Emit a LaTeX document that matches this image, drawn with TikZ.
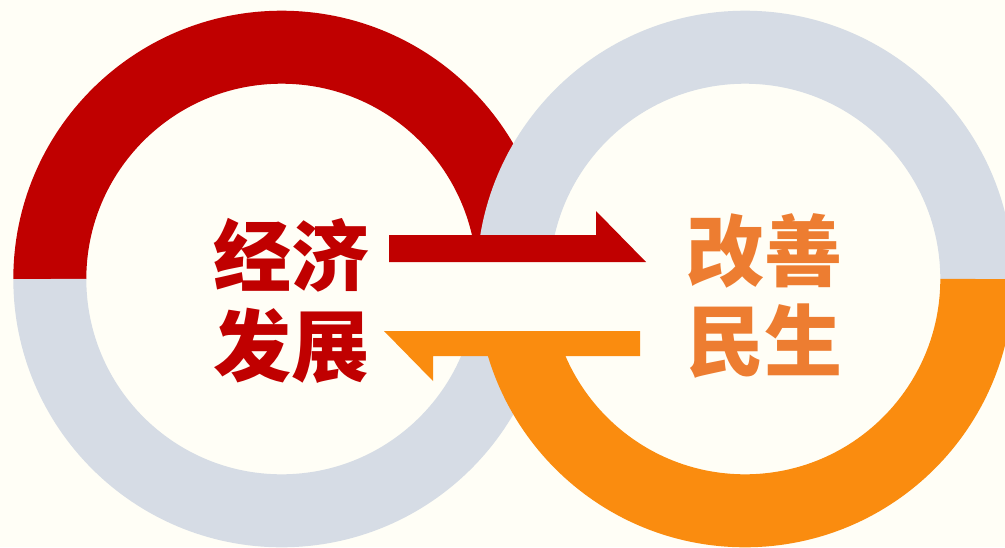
\documentclass[tikz,border=0pt]{standalone}
\usepackage{fontspec}
\usepackage{tikz}
\usepackage{tkz-euclide}
\usetikzlibrary{calc}
\newfontfamily\cjk{Noto Sans CJK SC}
\definecolor{ecored}{HTML}{C00000}
\definecolor{ringgrey}{HTML}{D6DCE5}
\definecolor{lifeorange}{HTML}{FA8C0F}
\definecolor{lifetext}{HTML}{ED7D31}
\definecolor{paper}{HTML}{FFFEF6}
\tikzset{
  ring/.style={line width=36.5pt},
  bigtext/.style={font=\cjk\bfseries\fontsize{39pt}{45pt}\selectfont,align=center,inner sep=0pt}
}

\begin{document}
\begin{tikzpicture}[x=0.5pt,y=-0.5pt]
                \fill[paper] (0,0) rectangle (1005,547);
                \useasboundingbox (0,0) rectangle (1005,547);

                \tkzDefPoint(281.6,279){O1}
                \tkzDefPoint(745,279){O2}

                \draw[ring,ecored] (O1) ++(180:231.8) arc[start angle=180,end angle=360,radius=231.8];
                \draw[ring,ringgrey] (O1) ++(0:231.8) arc[start angle=0,end angle=180,radius=231.8];
                \draw[ring,ringgrey] (O2) ++(180:231.8) arc[start angle=180,end angle=360,radius=231.8];
                \draw[ring,lifeorange] (O2) ++(0:231.8) arc[start angle=0,end angle=180,radius=231.8];

                \fill[paper] (389,262) rectangle (640,331);

                \fill[ecored] (389,235) -- (596,235) -- (596,211) -- (646,262) -- (389,262) -- cycle;
                \fill[lifeorange] (640,331) -- (384,331) -- (433,381) -- (433,356) -- (640,356) -- cycle;

                \node[bigtext,text=ecored] (econ) at (291,301) {经济\\发展};
                \node[bigtext,text=lifetext] (life) at (764,296) {改善\\民生};
            \end{tikzpicture}
\end{document}
